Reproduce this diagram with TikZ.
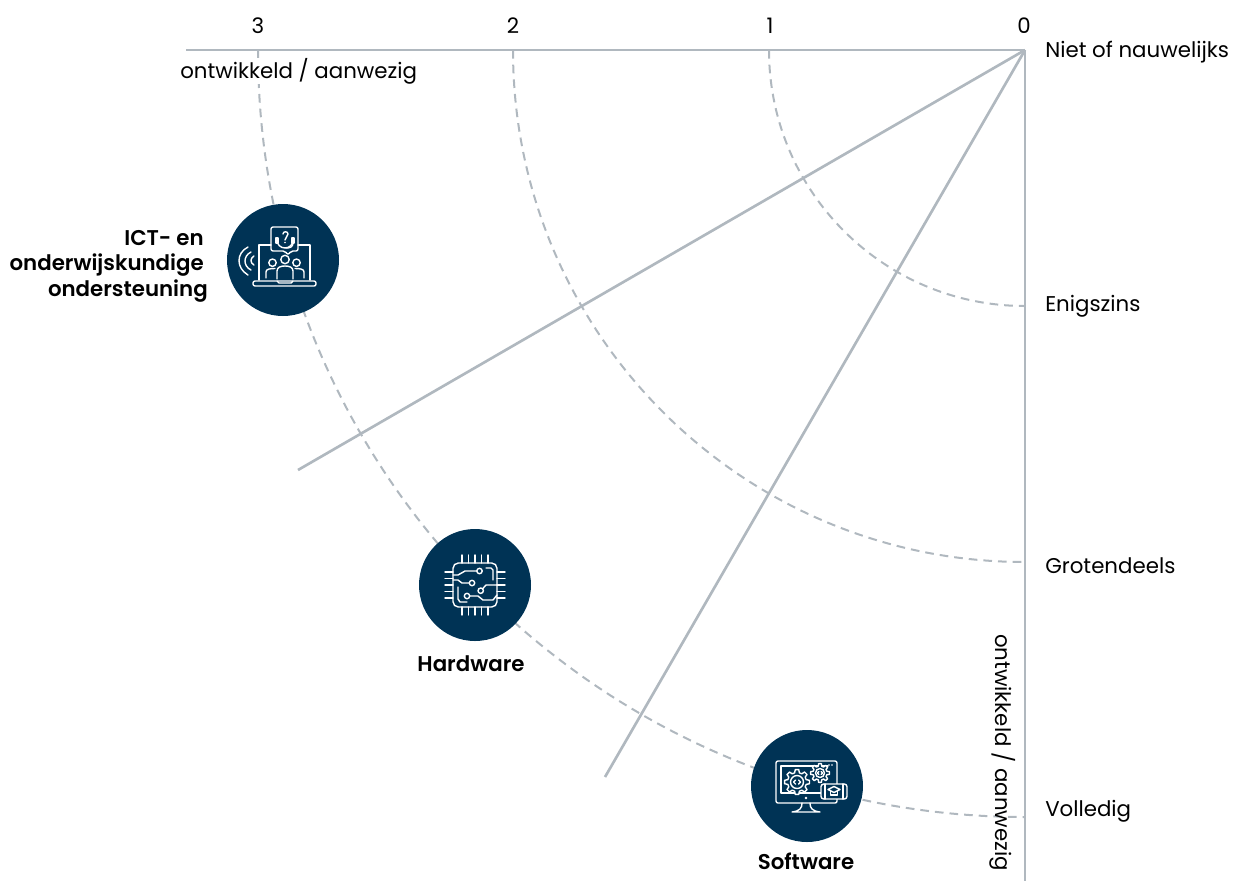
\documentclass[tikz,border=0pt]{standalone}
\usepackage{fontspec}
\setmainfont[BoldFont={Poppins SemiBold}]{Poppins}
\definecolor{ax}{HTML}{B0B8BF}
\definecolor{navy}{HTML}{003355}
\tikzset{
 axisline/.style={draw=ax,line width=2pt},
 arcline/.style={draw=ax,line width=1.5pt,dash pattern=on 6.5pt off 4.5pt},
 disc/.style={circle,fill=navy,minimum size=84pt,inner sep=0pt},
 lab/.style={font=\fontsize{16}{19}\selectfont,text=black,inner sep=0pt},
 blab/.style={font=\fontsize{16}{19}\selectfont\bfseries,text=black,inner sep=0pt},
 ico/.style={draw=white,line width=1.05pt,line cap=round,line join=round}
}
\newcommand{\geargl}[5]{% cx cy router rinner teeth
 \draw[ico,fill=navy,shift={(#1,#2)}] (0:#3)
  \foreach \k in {1,...,#5}{
   -- ({360/#5*(\k-1)+360/#5*.18}:#3)
   -- ({360/#5*(\k-1)+360/#5*.32}:#4)
   -- ({360/#5*(\k-1)+360/#5*.68}:#4)
   -- ({360/#5*(\k-1)+360/#5*.82}:#3)
  } -- cycle;
}
\begin{document}
\begin{tikzpicture}[x=.75pt,y=-.75pt]
\useasboundingbox (0,0) rectangle (1235,883);
\coordinate (O) at (1025,50);
\coordinate (topend) at (186,50);
\coordinate (botend) at (1025,881);
\coordinate (d1) at (298,470);
\coordinate (d2) at (605,777);
\draw[arcline] (769,50) arc[start angle=180,end angle=90,radius=256];
\draw[arcline] (513,50) arc[start angle=180,end angle=90,radius=512];
\draw[arcline] (258,50) arc[start angle=180,end angle=90,radius=767];
\node[lab,anchor=base west,fill=white] (xt) at (180,78) {ontwikkeld / aanwezig};
\draw[axisline] (O) -- (topend);
\draw[axisline] (O) -- (botend);
\draw[axisline] (O) -- (d1);
\draw[axisline] (O) -- (d2);
\node[lab,anchor=base] (t3) at (258,33) {3};
\node[lab,anchor=base] (t2) at (513,33) {2};
\node[lab,anchor=base] (t1) at (770,33) {1};
\node[lab,anchor=base] (t0) at (1024,33) {0};
\node[lab,anchor=base west] (l0) at (1045,57) {Niet of nauwelijks};
\node[lab,anchor=base west] (l1) at (1045,311) {Enigszins};
\node[lab,anchor=base west] (l2) at (1045,573) {Grotendeels};
\node[lab,anchor=base west] (l3) at (1045,816) {Volledig};
\node[lab,rotate=-90,anchor=base] (yt) at (995,752.5) {ontwikkeld / aanwezig};
\node[disc] (ict) at (283,260) {};
\node[disc] (hw) at (475,585) {};
\node[disc] (sw) at (807,786) {};
\node[blab,anchor=base east] (ict1) at (204,245) {ICT- en};
\node[blab,anchor=base east] (ict2) at (204,270.5) {onderwijskundige};
\node[blab,anchor=base east] (ict3) at (208,296) {ondersteuning};
\node[blab,anchor=base] (hwl) at (471,671) {Hardware};
\node[blab,anchor=base] (swl) at (806,869) {Software};
% ICT icon
\begin{scope}[shift={(ict.center)}]
 \draw[ico] (-12,-15) -- (-24,-15) -- (-24,20);
 \draw[ico] (15,-15) -- (27,-15) -- (27,20);
 \draw[ico,rounded corners=1.5pt] (-30,21) -- (33,21) -- (33,26) -- (-30,26) -- cycle;
 \draw[ico] (-6,21) -- (-4,23) -- (8,23) -- (10,21);
 \draw[ico,rounded corners=1.5pt] (-12,-33) -- (15,-33) -- (15,-9) -- (8,-9) -- (5,-5) -- (2,-9) -- (-12,-9) -- cycle;
 \draw[ico] (-6,-20) arc[start angle=180,end angle=0,radius=8];
 \draw[ico] (-7,-22) rectangle (-5,-17);
 \draw[ico] (9,-22) rectangle (11,-17);
 \draw[ico] (10,-17) .. controls (10,-13) and (7,-12) .. (3,-12);
 \draw[ico] (0,-26) .. controls (0,-29) and (5,-29) .. (5,-26) .. controls (5,-23) and (2,-23) .. (2,-20);
 \fill[white] (2,-17.5) circle[radius=.8];
 \draw[ico] (2,-0.5) circle[radius=4.2];
 \draw[ico] (-6,19) -- (-6,11) .. controls (-6,7) and (-2,6) .. (2,6) .. controls (6,6) and (10,7) .. (10,11) -- (10,19);
 \draw[ico] (-10.5,2.7) circle[radius=3.7];
 \draw[ico] (-17,18) -- (-17,12) .. controls (-17,9) and (-13,8.5) .. (-8,8.5);
 \draw[ico] (13.5,2.7) circle[radius=3.7];
 \draw[ico] (21,18) -- (21,12) .. controls (21,9) and (17,8.5) .. (12,8.5);
 \draw[ico] (-35,-13) .. controls (-47,-7) and (-47,8) .. (-35,15);
 \draw[ico] (-32,-8) .. controls (-40,-4) and (-40,6) .. (-32,10);
 \draw[ico] (-29,-4) .. controls (-33,-2) and (-33,3) .. (-29,5);
\end{scope}
% Hardware icon
\begin{scope}[shift={(hw.center)}]
 \draw[ico,rounded corners=4pt] (-22,-22) rectangle (22,22);
 \foreach \p in {-13,-6.5,0,6.5,13}{
  \draw[ico] (\p,-30) -- (\p,-22);
  \draw[ico] (\p,22) -- (\p,30);
  \draw[ico] (-30,\p) -- (-22,\p);
  \draw[ico] (22,\p) -- (30,\p);
 }
 \draw[ico] (4.5,-14) circle[radius=2.7];
 \draw[ico] (1.8,-14) -- (-10,-14) -- (-17,-10) -- (-22,-10);
 \draw[ico] (11,-17) -- (16,-17) -- (18,-15) -- (18,-5);
 \draw[ico] (-3,-2) circle[radius=2.7];
 \draw[ico] (-5.7,-2) -- (-13,-2) -- (-17,-5) -- (-22,-5);
 \draw[ico] (5.7,5.7) circle[radius=2.7];
 \draw[ico] (7.6,3.8) -- (11,0) -- (22,0);
 \draw[ico] (-8,11) circle[radius=2.7];
 \draw[ico] (-5.3,11) -- (3,11) -- (8,15) -- (18,15) -- (22,10);
 \draw[ico] (-17,2) -- (-17,14) -- (-15,17) -- (-8,17);
\end{scope}
% Software icon
\begin{scope}[shift={(sw.center)}]
 \draw[ico,rounded corners=1.5pt] (-31,-25) rectangle (30,17);
 \draw[ico] (21,-20) -- (-26,-20) -- (-26,7) -- (14,7);
 \fill[white] (22,-21) circle[radius=.9] (25,-21) circle[radius=.9];
 \geargl{-10}{-4}{12.5}{9.5}{8}
 \draw[ico] (-10,-4) circle[radius=6.5];
 \draw[ico] (-11.5,-6) -- (-13.5,-4) -- (-11.5,-2);
 \draw[ico] (-8.5,-6) -- (-6.5,-4) -- (-8.5,-2);
 \geargl{13}{-13}{9.5}{7}{8}
 \draw[ico] (13,-13) circle[radius=4.5];
 \draw[ico] (11.8,-14.5) -- (10.3,-13) -- (11.8,-11.5);
 \draw[ico] (14.2,-14.5) -- (15.7,-13) -- (14.2,-11.5);
 \draw[ico,fill=navy,rounded corners=2pt] (14,-2) rectangle (40,13);
 \draw[ico] (18,-2) -- (18,13);
 \draw[ico] (36,-2) -- (36,13);
 \draw[ico] (21,3.5) -- (27,0.5) -- (33,3.5) -- (27,6.5) -- cycle;
 \draw[ico] (23.5,5) -- (23.5,9) -- (30.5,9) -- (30.5,5);
 \fill[white] (-1,12) circle[radius=1.4];
 \draw[ico] (-5,17) .. controls (-5,22) and (-7,25) .. (-15,26) -- (13,26) .. controls (5,25) and (3,22) .. (3,17);
\end{scope}
\end{tikzpicture}
\end{document}
